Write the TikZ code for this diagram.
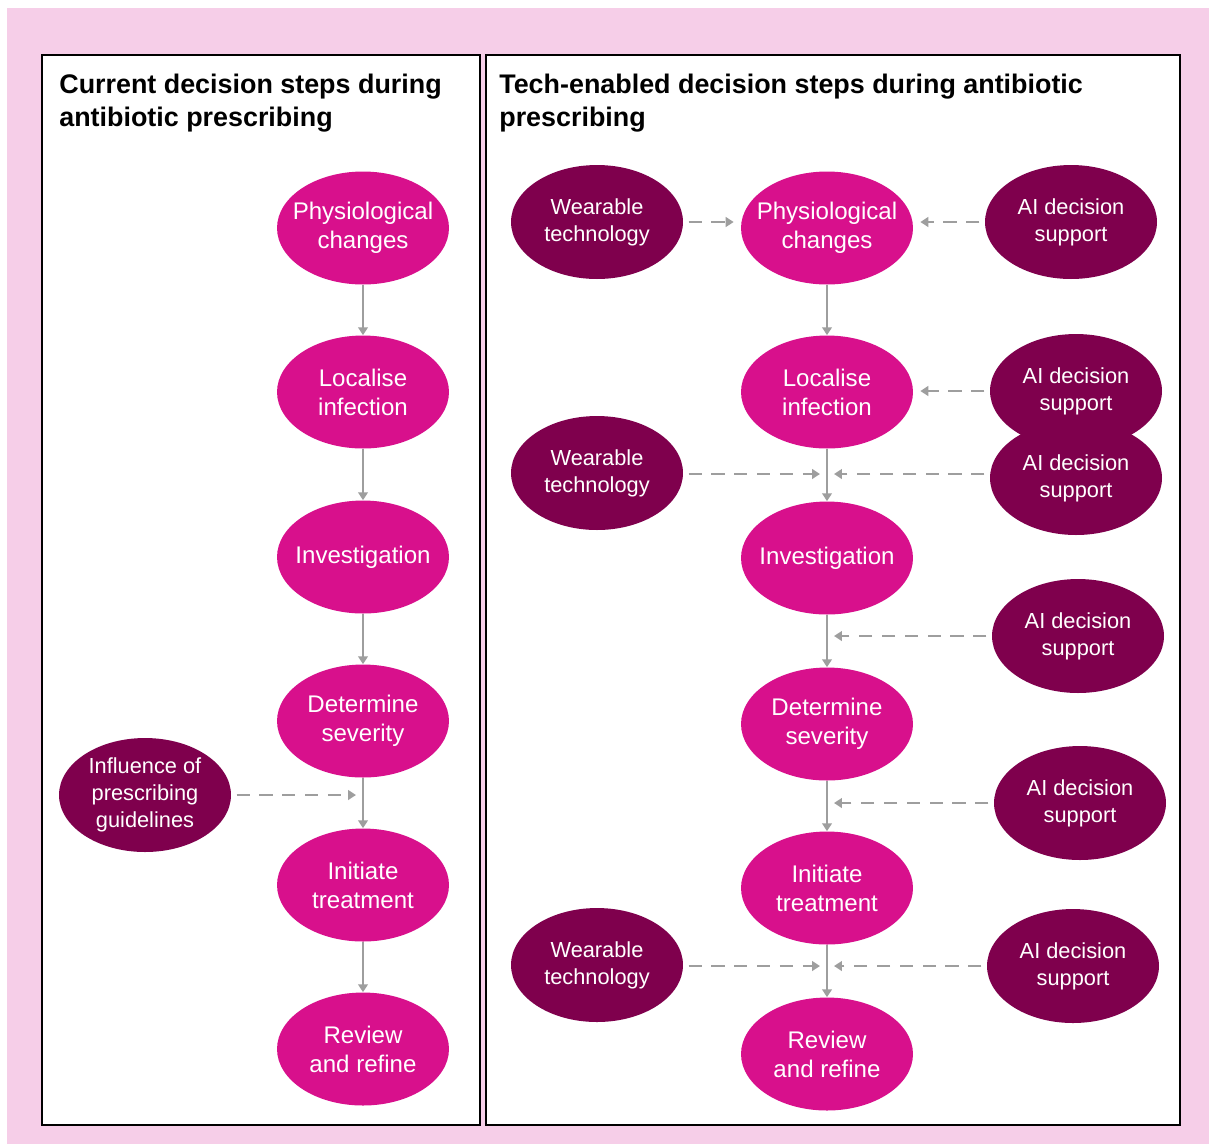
\documentclass[tikz,border=0pt]{standalone}
\usepackage{fontspec}
\setmainfont{Liberation Sans}
\usetikzlibrary{shapes.geometric,arrows.meta}
\definecolor{bgpink}{RGB}{246,206,232}
\definecolor{steppink}{RGB}{216,16,140}
\definecolor{plum}{RGB}{127,0,77}
\definecolor{linegray}{RGB}{158,158,158}

\begin{document}
\begin{tikzpicture}[x=0.02cm,y=-0.02cm,
	stepnode/.style={ellipse,fill=steppink,text=white,inner sep=-15pt,
		minimum width=3.44cm,minimum height=2.26cm,align=center,
		font=\fontsize{13.7}{16.4}\selectfont},
	helper/.style={ellipse,fill=plum,text=white,inner sep=-15pt,
		minimum width=3.44cm,minimum height=2.28cm,align=center,
		font=\fontsize{12.4}{15.4}\selectfont},
	flow/.style={draw=linegray,line width=1.6pt,-{Triangle[length=4.5pt,width=5.5pt]}},
	feed/.style={flow,dash pattern=on 7.5pt off 5.5pt,shorten >=4pt,shorten <=3pt},
	title/.style={anchor=north west,inner sep=0pt,align=left,
		font=\bfseries\fontsize{15.3}{18.7}\selectfont}]
				\useasboundingbox (0,0) rectangle (1209,1144);
				\fill[white] (0,0) rectangle (1209,1144);
				\fill[bgpink] (7,8) rectangle (1209,1144);
				\draw[fill=white,line width=1pt] (42,55) rectangle (480,1125);
				\draw[fill=white,line width=1pt] (486,55) rectangle (1180,1125);
				\node[title] (curtitle) at (59,74) {Current decision steps during\\antibiotic prescribing};
				\node[title] (techtitle) at (499,74) {Tech-enabled decision steps during antibiotic\\prescribing};
				\foreach \n/\y/\t in {phys/228/{Physiological\\changes},loc/392/{Localise\\infection},
						inv/557/{Investigation},sev/721/{Determine\\severity},
						init/885/{Initiate\\treatment},rev/1049/{Review\\and refine}} {
						\node[stepnode] (l\n) at (363,\y) {\t};
					}
				\foreach \n/\y/\t in {phys/228/{Physiological\\changes},loc/392/{Localise\\infection},
						inv/558/{Investigation},sev/724/{Determine\\severity},
						init/888/{Initiate\\treatment},rev/1054/{Review\\and refine}} {
						\node[stepnode] (t\n) at (827,\y) {\t};
					}
				\foreach \a/\b in {phys/loc,loc/inv,inv/sev,sev/init,init/rev} {
						\draw[flow] (l\a) -- (l\b);
						\draw[flow] (t\a) -- (t\b);
					}
				\node[helper] (infl) at (145,795) {Influence of\\prescribing\\guidelines};
				\foreach \n/\y in {w1/222,w2/473,w3/965} {
						\node[helper] (\n) at (597,\y) {Wearable\\technology};
					}
				\foreach \n/\x/\y in {a1/1071/222,a2/1076/391,a3/1076/478,a4/1078/636,a5/1080/803,a6/1073/966} {
						\node[helper] (\n) at (\x,\y) {AI decision\\support};
					}
				\coordinate (lj) at (363,795);
				\coordinate (j1) at (827,474);
				\coordinate (j2) at (827,636);
				\coordinate (j3) at (827,803);
				\coordinate (j4) at (827,966);
				\draw[feed] (infl.east |- lj) -- (lj);
				\draw[feed] (w1.east) -- (w1.east -| tphys.west);
				\draw[feed] (a1.west) -- (a1.west -| tphys.east);
				\draw[feed] (a2.west) -- (a2.west -| tloc.east);
				\draw[feed] (w2.east |- j1) -- (j1);
				\draw[feed] (a3.west |- j1) -- (j1);
				\draw[feed] (a4.west |- j2) -- (j2);
				\draw[feed] (a5.west |- j3) -- (j3);
				\draw[feed] (w3.east |- j4) -- (j4);
				\draw[feed] (a6.west |- j4) -- (j4);
			\end{tikzpicture}
\end{document}
